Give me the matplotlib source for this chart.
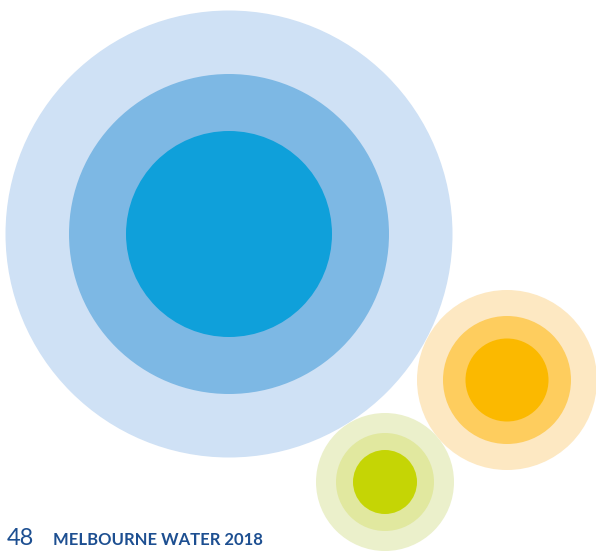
import matplotlib
matplotlib.use('Agg')
import matplotlib.pyplot as plt
from matplotlib.patches import Circle

# ring groups: centre and radii (outer -> inner), in page pixel units
groups = ['blue', 'orange', 'green']
centre_x = [229, 507, 385]
centre_y = [234, 380, 482]
radii = [[223.5, 160, 103],
         [90, 64, 41.5],
         [69, 49, 32]]
colours = [['#cfe1f5', '#7db8e4', '#0fa0da'],
           ['#fde8c2', '#fecd5e', '#fbb900'],
           ['#ebf0cb', '#e1e89f', '#c5d505']]

page_no = '48'
footer = 'MELBOURNE WATER 2018'
text_colour = '#1d4f91'

fig = plt.figure(figsize=(5.96, 5.51), dpi=100)
ax = fig.add_axes([0, 0, 1, 1])
ax.set_xlim(0, 596)
ax.set_ylim(551, 0)
ax.set_aspect('equal')
ax.axis('off')

for i in range(len(groups)):
    for r, c in zip(radii[i], colours[i]):
        ax.add_patch(Circle((centre_x[i], centre_y[i]), r, facecolor=c,
                            edgecolor='none'))

ax.text(7, 545, page_no, fontsize=17, color=text_colour,
        family='Lato', va='baseline', ha='left')
ax.text(53, 545, footer, fontsize=12, color=text_colour,
        family='Lato', fontweight='bold', va='baseline', ha='left')

fig.savefig('out.png', dpi=100)
